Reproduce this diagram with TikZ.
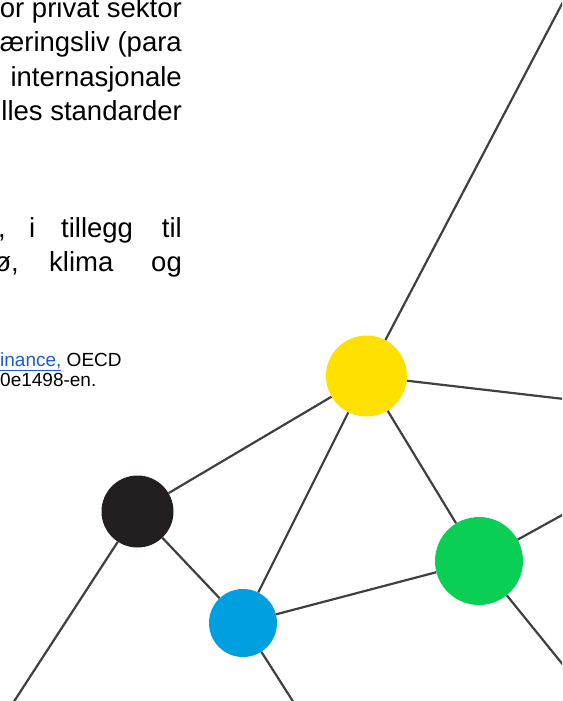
\documentclass[tikz,border=0pt]{standalone}
\usepackage{fontspec}
\setmainfont{Liberation Sans}
\definecolor{nodeyellow}{HTML}{FFE000}
\definecolor{nodegreen}{HTML}{0ACF55}
\definecolor{nodeblue}{HTML}{009FDF}
\definecolor{nodeblack}{HTML}{231F20}
\definecolor{edgegray}{HTML}{404040}
\definecolor{linkblue}{HTML}{1B5BD8}
\begin{document}
\begin{tikzpicture}[x=1pt,y=-1pt,
  dot/.style={circle,inner sep=0pt,draw=none},
  edge/.style={draw=edgegray,line width=2.2pt},
  bodytext/.style={inner sep=0pt,anchor=base east,font=\fontsize{27.5}{32}\selectfont},
  wordtext/.style={inner sep=0pt,anchor=base west,font=\fontsize{27.5}{32}\selectfont},
  notetext/.style={inner sep=0pt,anchor=base west,font=\fontsize{19}{22}\selectfont}]
\useasboundingbox (0,0) rectangle (562,701);
\clip (0,0) rectangle (562,701);
% text
\node[bodytext] (t1) at (182,18) {or privat sektor};
\node[bodytext] (t2) at (182,52) {æringsliv (para};
\node[bodytext] (t3) at (182,86) {internasjonale};
\node[bodytext] (t4) at (182,120) {lles standarder};
\node[bodytext] (t5a) at (6,237) {,};
\node[wordtext] (t5b) at (29,237) {i};
\node[wordtext] (t5c) at (61,237) {tillegg};
\node[bodytext] (t5d) at (182,237) {til};
\node[bodytext] (t6a) at (19,271) {ø,};
\node[wordtext] (t6b) at (49,271) {klima};
\node[bodytext] (t6c) at (182,271) {og};
\node[notetext] (n1) at (0,366) {\textcolor{linkblue}{\underline{inance,}} OECD};
\node[notetext] (n2) at (0,386) {0e1498-en.};
% nodes
\node[dot,fill=nodeyellow,minimum size=81pt] (Y) at (366.5,376) {};
\node[dot,fill=nodegreen,minimum size=88pt] (G) at (479,561) {};
\node[dot,fill=nodeblack,minimum size=72pt] (K) at (137.5,511.5) {};
\node[dot,fill=nodeblue,minimum size=68pt] (B) at (243,623) {};
% free ends
\coordinate (e1) at (564,0);
\coordinate (e2) at (564,399);
\coordinate (e3) at (564,514);
\coordinate (e4) at (564,666);
\coordinate (e5) at (13,703);
\coordinate (e6) at (294,703);
% connectors
\draw[edge] (Y) -- (e1);
\draw[edge] (Y) -- (e2);
\draw[edge] (Y) -- (K);
\draw[edge] (Y) -- (B);
\draw[edge] (Y) -- (G);
\draw[edge] (G) -- (B);
\draw[edge] (G) -- (e3);
\draw[edge] (G) -- (e4);
\draw[edge] (K) -- (e5);
\draw[edge] (K) -- (B);
\draw[edge] (B) -- (e6);
\end{tikzpicture}
\end{document}
